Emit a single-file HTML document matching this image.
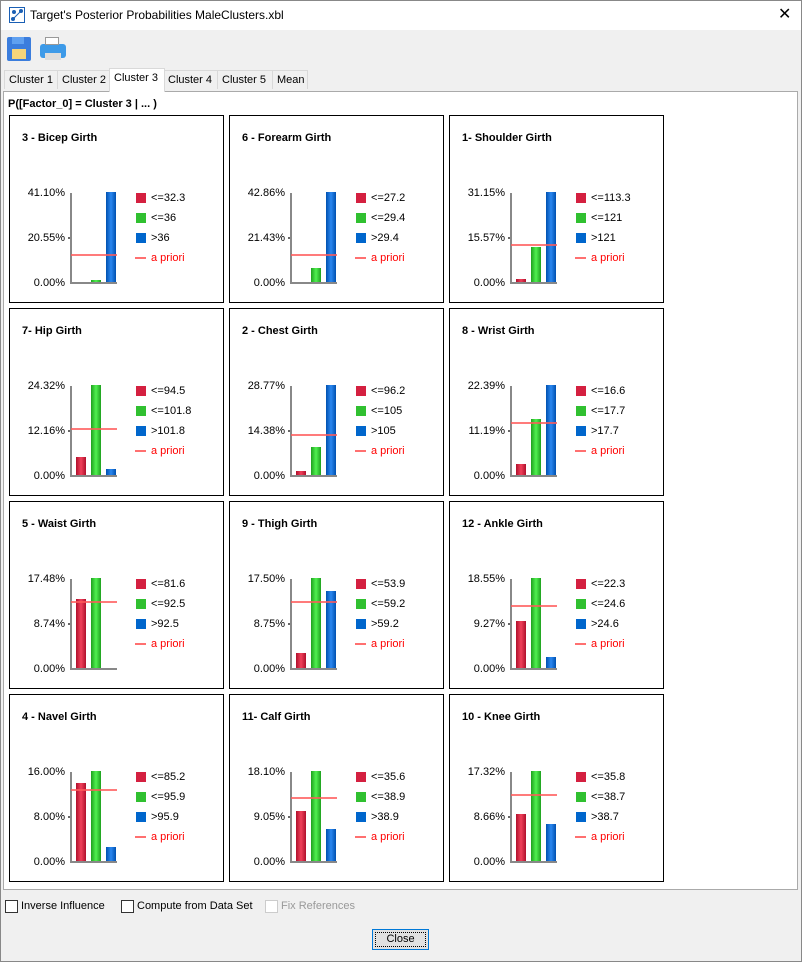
<!DOCTYPE html>
<html><head><meta charset="utf-8"><style>
*{box-sizing:border-box;margin:0;padding:0}
body{width:802px;height:962px;background:#f0f0f0;font-family:"Liberation Sans",Arial,sans-serif;font-size:11px;position:relative;overflow:hidden}
.abs{position:absolute}
.frame{left:0;top:0;width:802px;height:962px;border:1px solid #888;z-index:5;pointer-events:none}
.title{left:0;top:0;width:802px;height:30px;background:#fff}
.tab{position:absolute;top:70px;height:19px;border:1px solid #d9d9d9;border-bottom:none;background:#f0f0f0;padding:3px 4px 0 4px;font-size:11px;color:#000;white-space:nowrap}
.content{left:3px;top:91px;width:795px;height:799px;background:#fff;border:1px solid #aaa}
.panel{position:absolute;width:215px;height:188px;border:1px solid #000;background:#fff}
.panel .t{position:absolute;left:12px;top:16px;font-weight:bold;font-size:11px}
.ax{position:absolute;left:60px;top:77px;width:2px;height:91px;background:#888}
.bl{position:absolute;left:60px;top:166px;width:47px;height:2px;background:#888}
.tick{position:absolute;left:58px;width:3px;height:2px;background:#666}
.yl{position:absolute;right:158px;font-size:11px;text-align:right;width:60px}
.bar{position:absolute;width:10px}
.r{background:linear-gradient(90deg,#b0102c,#f0405a 50%,#b0102c)}
.g{background:linear-gradient(90deg,#1ea01e,#50f050 50%,#1ea01e)}
.b{background:linear-gradient(90deg,#0050b0,#2a88f0 50%,#0050b0)}
.ap{position:absolute;left:61px;width:46px;height:2px;background:rgba(255,90,90,0.8)}
.sq{position:absolute;left:126px;width:10px;height:10px}
.lt{position:absolute;left:141px;font-size:11px}
.cb{position:absolute;top:900px;width:13px;height:13px;border:1px solid #333;background:#fff}
</style></head><body>
<div class="abs title"></div>
<div class="abs frame"></div>
<svg class="abs" style="left:9px;top:7px" width="16" height="16"><rect x="0.5" y="0.5" width="15" height="15" fill="#fff" stroke="#1a5fb4"/><circle cx="4" cy="12" r="2" fill="#1a5fb4"/><circle cx="12" cy="4" r="2" fill="#1a5fb4"/><circle cx="5" cy="5" r="2" fill="#1a5fb4"/><line x1="4" y1="12" x2="12" y2="4" stroke="#1a5fb4"/></svg>
<div class="abs" style="left:30px;top:8px;font-size:12px">Target's Posterior Probabilities MaleClusters.xbl</div>
<div class="abs" style="left:778px;top:4px;font-size:16px">✕</div>
<div class="abs" style="left:7px;top:37px;width:24px;height:24px;background:#3b7ddd;border-radius:2px"></div>
<div class="abs" style="left:12px;top:37px;width:12px;height:7px;background:#5fa0f0"></div>
<div class="abs" style="left:12px;top:49px;width:14px;height:10px;background:#f6d57a"></div>
<div class="abs" style="left:40px;top:44px;width:26px;height:14px;background:#3d9ae8;border-radius:3px"></div>
<div class="abs" style="left:45px;top:37px;width:14px;height:8px;background:#fff;border:1px solid #999"></div>
<div class="abs" style="left:45px;top:53px;width:16px;height:7px;background:#ddd"></div>
<div class="tab" style="left:4px;width:54px">Cluster 1</div>
<div class="tab" style="left:57px;width:53px">Cluster 2</div>
<div class="tab" style="left:163px;width:55px">Cluster 4</div>
<div class="tab" style="left:217px;width:56px">Cluster 5</div>
<div class="tab" style="left:272px;width:36px">Mean</div>
<div class="abs content"></div>
<div class="tab" style="left:109px;top:68px;height:24px;width:56px;background:#fff;z-index:2;padding-top:3px">Cluster 3</div>
<div class="abs" style="left:8px;top:98px;font-weight:bold;font-size:11px">P([Factor_0] = Cluster 3 | ... )</div>
<div id="panels"></div>
<div class="cb" style="left:5px"></div><div class="abs" style="left:21px;top:900px">Inverse Influence</div>
<div class="cb" style="left:121px"></div><div class="abs" style="left:137px;top:900px">Compute from Data Set</div>
<div class="cb" style="left:265px;border-color:#ccc"></div><div class="abs" style="left:281px;top:900px;color:#999">Fix References</div>
<div class="abs" style="left:372px;top:929px;width:57px;height:21px;border:1px solid #0078d7;background:#e1e1e1;text-align:center;padding-top:3px;outline:1px dotted #000;outline-offset:-4px">Close</div>
<script>
var d=[
["3 - Bicep Girth","41.10%","20.55%",["<=32.3","<=36",">36"],[0,2,90],28],
["6 - Forearm Girth","42.86%","21.43%",["<=27.2","<=29.4",">29.4"],[0,14,90],28],
["1- Shoulder Girth","31.15%","15.57%",["<=113.3","<=121",">121"],[3,35,90],38],
["7- Hip Girth","24.32%","12.16%",["<=94.5","<=101.8",">101.8"],[18,90,6],47],
["2 - Chest Girth","28.77%","14.38%",["<=96.2","<=105",">105"],[4,28,90],41],
["8 - Wrist Girth","22.39%","11.19%",["<=16.6","<=17.7",">17.7"],[11,56,90],53],
["5 - Waist Girth","17.48%","8.74%",["<=81.6","<=92.5",">92.5"],[69,90,0],67],
["9 - Thigh Girth","17.50%","8.75%",["<=53.9","<=59.2",">59.2"],[15,90,77],67],
["12 - Ankle Girth","18.55%","9.27%",["<=22.3","<=24.6",">24.6"],[47,90,11],63],
["4 - Navel Girth","16.00%","8.00%",["<=85.2","<=95.9",">95.9"],[78,90,14],72],
["11- Calf Girth","18.10%","9.05%",["<=35.6","<=38.9",">38.9"],[50,90,32],64],
["10 - Knee Girth","17.32%","8.66%",["<=35.8","<=38.7",">38.7"],[47,90,37],67]];
var h="",c=["r","g","b"];
d.forEach(function(p,i){var x=9+220*(i%3),y=115+193*Math.floor(i/3);
h+='<div class="panel" style="left:'+x+'px;top:'+y+'px"><div class="t">'+p[0]+'</div>';
h+='<div class="yl" style="top:71px">'+p[1]+'</div><div class="yl" style="top:116px">'+p[2]+'</div><div class="yl" style="top:161px">0.00%</div>';
h+='<div class="tick" style="top:121px"></div>';
for(var k=0;k<3;k++){if(p[4][k]>0)h+='<div class="bar '+c[k]+'" style="left:'+(66+15*k)+'px;top:'+(166-p[4][k])+'px;height:'+p[4][k]+'px"></div>';
h+='<div class="sq '+c[k]+'" style="top:'+(77+20*k)+'px;background:'+["#d42040","#30c030","#0066cc"][k]+'"></div><div class="lt" style="top:'+(76+20*k)+'px">'+p[3][k].replace(/</g,'&lt;').replace(/>/g,'&gt;')+'</div>';}
h+='<div class="ax"></div><div class="bl"></div>';
h+='<div class="ap" style="top:'+(166-p[5])+'px"></div>';
h+='<div class="abs" style="left:125px;top:141px;width:11px;height:2px;background:#ff7070"></div><div class="lt" style="top:136px;color:#f00">a priori</div></div>';});
document.getElementById("panels").innerHTML=h;
</script>
</body></html>
